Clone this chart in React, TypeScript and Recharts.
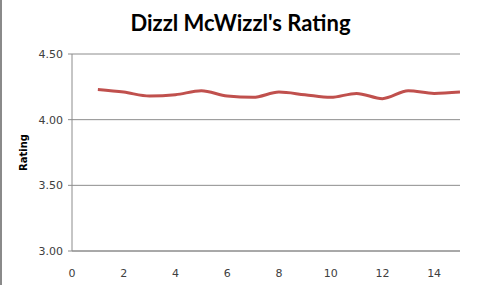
import { LineChart, Line, XAxis, YAxis, CartesianGrid } from 'recharts';

const xValues = [1, 2, 3, 4, 5, 6, 7, 8, 9, 10, 11, 12, 13, 14, 15];
const ratings = [4.23, 4.21, 4.18, 4.19, 4.22, 4.18, 4.17, 4.21, 4.19, 4.17, 4.2, 4.16, 4.22, 4.2, 4.21];
const xTicks = [0, 2, 4, 6, 8, 10, 12, 14];
const yTicks = [3, 3.5, 4, 4.5];

const chartData = xValues.map((x, i) => ({ x, rating: ratings[i] }));

const TICK_STYLE = { fontFamily: '"DejaVu Sans", sans-serif', fontSize: 11, fill: '#404040' };

export default function App() {
  return (
    <div
      style={{
        position: 'absolute',
        top: 0,
        left: 0,
        width: 479,
        height: 285,
        background: '#fff',
        boxSizing: 'border-box',
        borderLeft: '2px solid #8a8a8a',
      }}
    >
      <div
        style={{
          position: 'absolute',
          top: 9,
          left: 0,
          width: 477,
          textAlign: 'center',
          fontFamily: 'Lato, sans-serif',
          fontWeight: 'bold',
          fontSize: 22,
          color: '#000',
        }}
      >
        Dizzl McWizzl's Rating
      </div>
      <LineChart
        width={477}
        height={285}
        data={chartData}
        margin={{ top: 54, right: 19, left: 0, bottom: 0 }}
        style={{ position: 'absolute', top: 0, left: 0 }}
      >
        <CartesianGrid vertical={false} stroke="#8c8c8c" />
        <XAxis
          dataKey="x"
          type="number"
          domain={[0, 15]}
          ticks={xTicks}
          allowDataOverflow
          stroke="#8c8c8c"
          tickLine={false}
          tickMargin={12}
          height={34}
          tick={TICK_STYLE}
        />
        <YAxis
          type="number"
          domain={[3, 4.5]}
          ticks={yTicks}
          stroke="#8c8c8c"
          tickSize={4}
          tickMargin={5}
          width={70}
          tick={TICK_STYLE}
          tickFormatter={(v: number) => v.toFixed(2)}
          label={{
            value: 'Rating',
            angle: -90,
            position: 'insideLeft',
            offset: 21,
            style: { fontFamily: '"DejaVu Sans", sans-serif', fontSize: 10, fontWeight: 'bold', fill: '#000', textAnchor: 'middle' },
          }}
        />
        <Line
          type="monotone"
          dataKey="rating"
          stroke="#c0504d"
          strokeWidth={3}
          dot={false}
          isAnimationActive={false}
        />
      </LineChart>
    </div>
  );
}
